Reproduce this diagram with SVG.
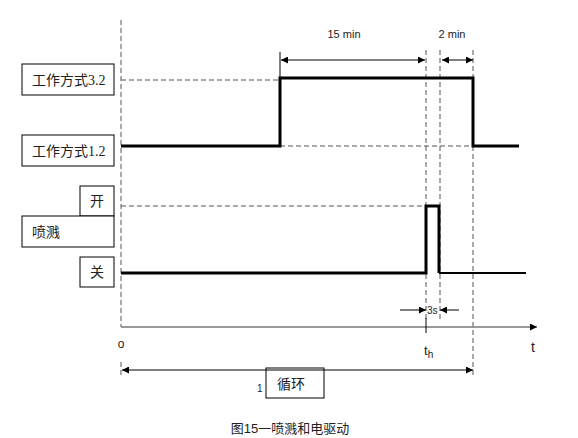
<svg xmlns="http://www.w3.org/2000/svg" width="578" height="438" viewBox="0 0 578 438">
<style>
.box{fill:#fff;stroke:#000;stroke-width:1}
.lbl{font-family:"Liberation Serif","Noto Sans CJK SC",serif;font-size:14px;fill:#222}
.sans{font-family:"Liberation Sans",Arial,"Noto Sans CJK SC",sans-serif;fill:#222}
.dash{fill:none;stroke:#555;stroke-width:1;stroke-dasharray:5,3}
.sig{fill:none;stroke:#000;stroke-width:3}
.dim{fill:none;stroke:#000;stroke-width:1}
</style>
<defs>
<marker id="ah" viewBox="0 0 10 10" refX="10" refY="5" markerWidth="9" markerHeight="7" markerUnits="userSpaceOnUse" orient="auto-start-reverse">
<path d="M0,0 L10,5 L0,10 z" fill="#000"/>
</marker>
</defs>
<rect width="578" height="438" fill="#fff"/>
<g id="mode32"><rect class="box" x="22" y="64" width="92" height="31"/><text class="lbl" x="32" y="85">工作方式3.2</text></g>
<g id="mode12"><rect class="box" x="22" y="135" width="92" height="31"/><text class="lbl" x="32" y="156">工作方式1.2</text></g>
<g id="open"><rect class="box" x="80" y="186" width="34" height="30"/><text class="lbl" x="97" y="206" text-anchor="middle">开</text></g>
<g id="spray"><rect class="box" x="22" y="216" width="92" height="31"/><text class="lbl" x="32" y="237">喷溅</text></g>
<g id="close"><rect class="box" x="80" y="257" width="34" height="30"/><text class="lbl" x="97" y="277" text-anchor="middle">关</text></g>
<g id="cycle"><rect class="box" x="266" y="368" width="58" height="30"/><text class="lbl" x="277" y="389">循环</text><text class="sans" x="257" y="392" font-size="10">1</text></g>
<g id="connectors">
<path class="dash" d="M121,20 V327 M121,362 V378 M121,80 H280 M280,146 H473 M121,206 H426 M426,50 V322 M440,50 V322 M473,50 V378"/>
<path class="sig" d="M121,146 H280 V78 H473 V146 H519"/>
<path class="sig" d="M121,273 H426 V206 H439 V273"/>
<path fill="none" stroke="#000" stroke-width="2" d="M439,273 H526"/>
<path fill="none" stroke="#777" stroke-width="1.5" d="M121,327 H537" marker-end="url(#ah)"/>
<path class="dim" d="M426,318 V333" stroke-width="1.5"/>
<path class="dim" d="M280,52 V78"/>
<path class="dim" d="M281,60 H425" marker-start="url(#ah)" marker-end="url(#ah)"/>
<path class="dim" d="M442,60 H473" marker-start="url(#ah)" marker-end="url(#ah)"/>
<path class="dim" d="M400,310 H426" marker-end="url(#ah)"/>
<path class="dim" d="M459,310 H440" marker-end="url(#ah)"/>
<path class="dim" d="M122,370 H473" marker-start="url(#ah)" marker-end="url(#ah)"/>
</g>
<g id="labels">
<text class="sans" x="344" y="38" font-size="11" text-anchor="middle">15 min</text>
<text class="sans" x="452" y="38" font-size="11" text-anchor="middle">2 min</text>
<text class="sans" x="427" y="314" font-size="10">3s</text>
<text class="sans" x="121" y="348" font-size="12" text-anchor="middle">o</text>
<text class="sans" x="424" y="355" font-size="13">t<tspan font-size="10" dy="3">h</tspan></text>
<text class="sans" x="531" y="352" font-size="14">t</text>
<text class="sans" x="290" y="433" font-size="13" text-anchor="middle">图15一喷溅和电驱动</text>
</g>
</svg>
